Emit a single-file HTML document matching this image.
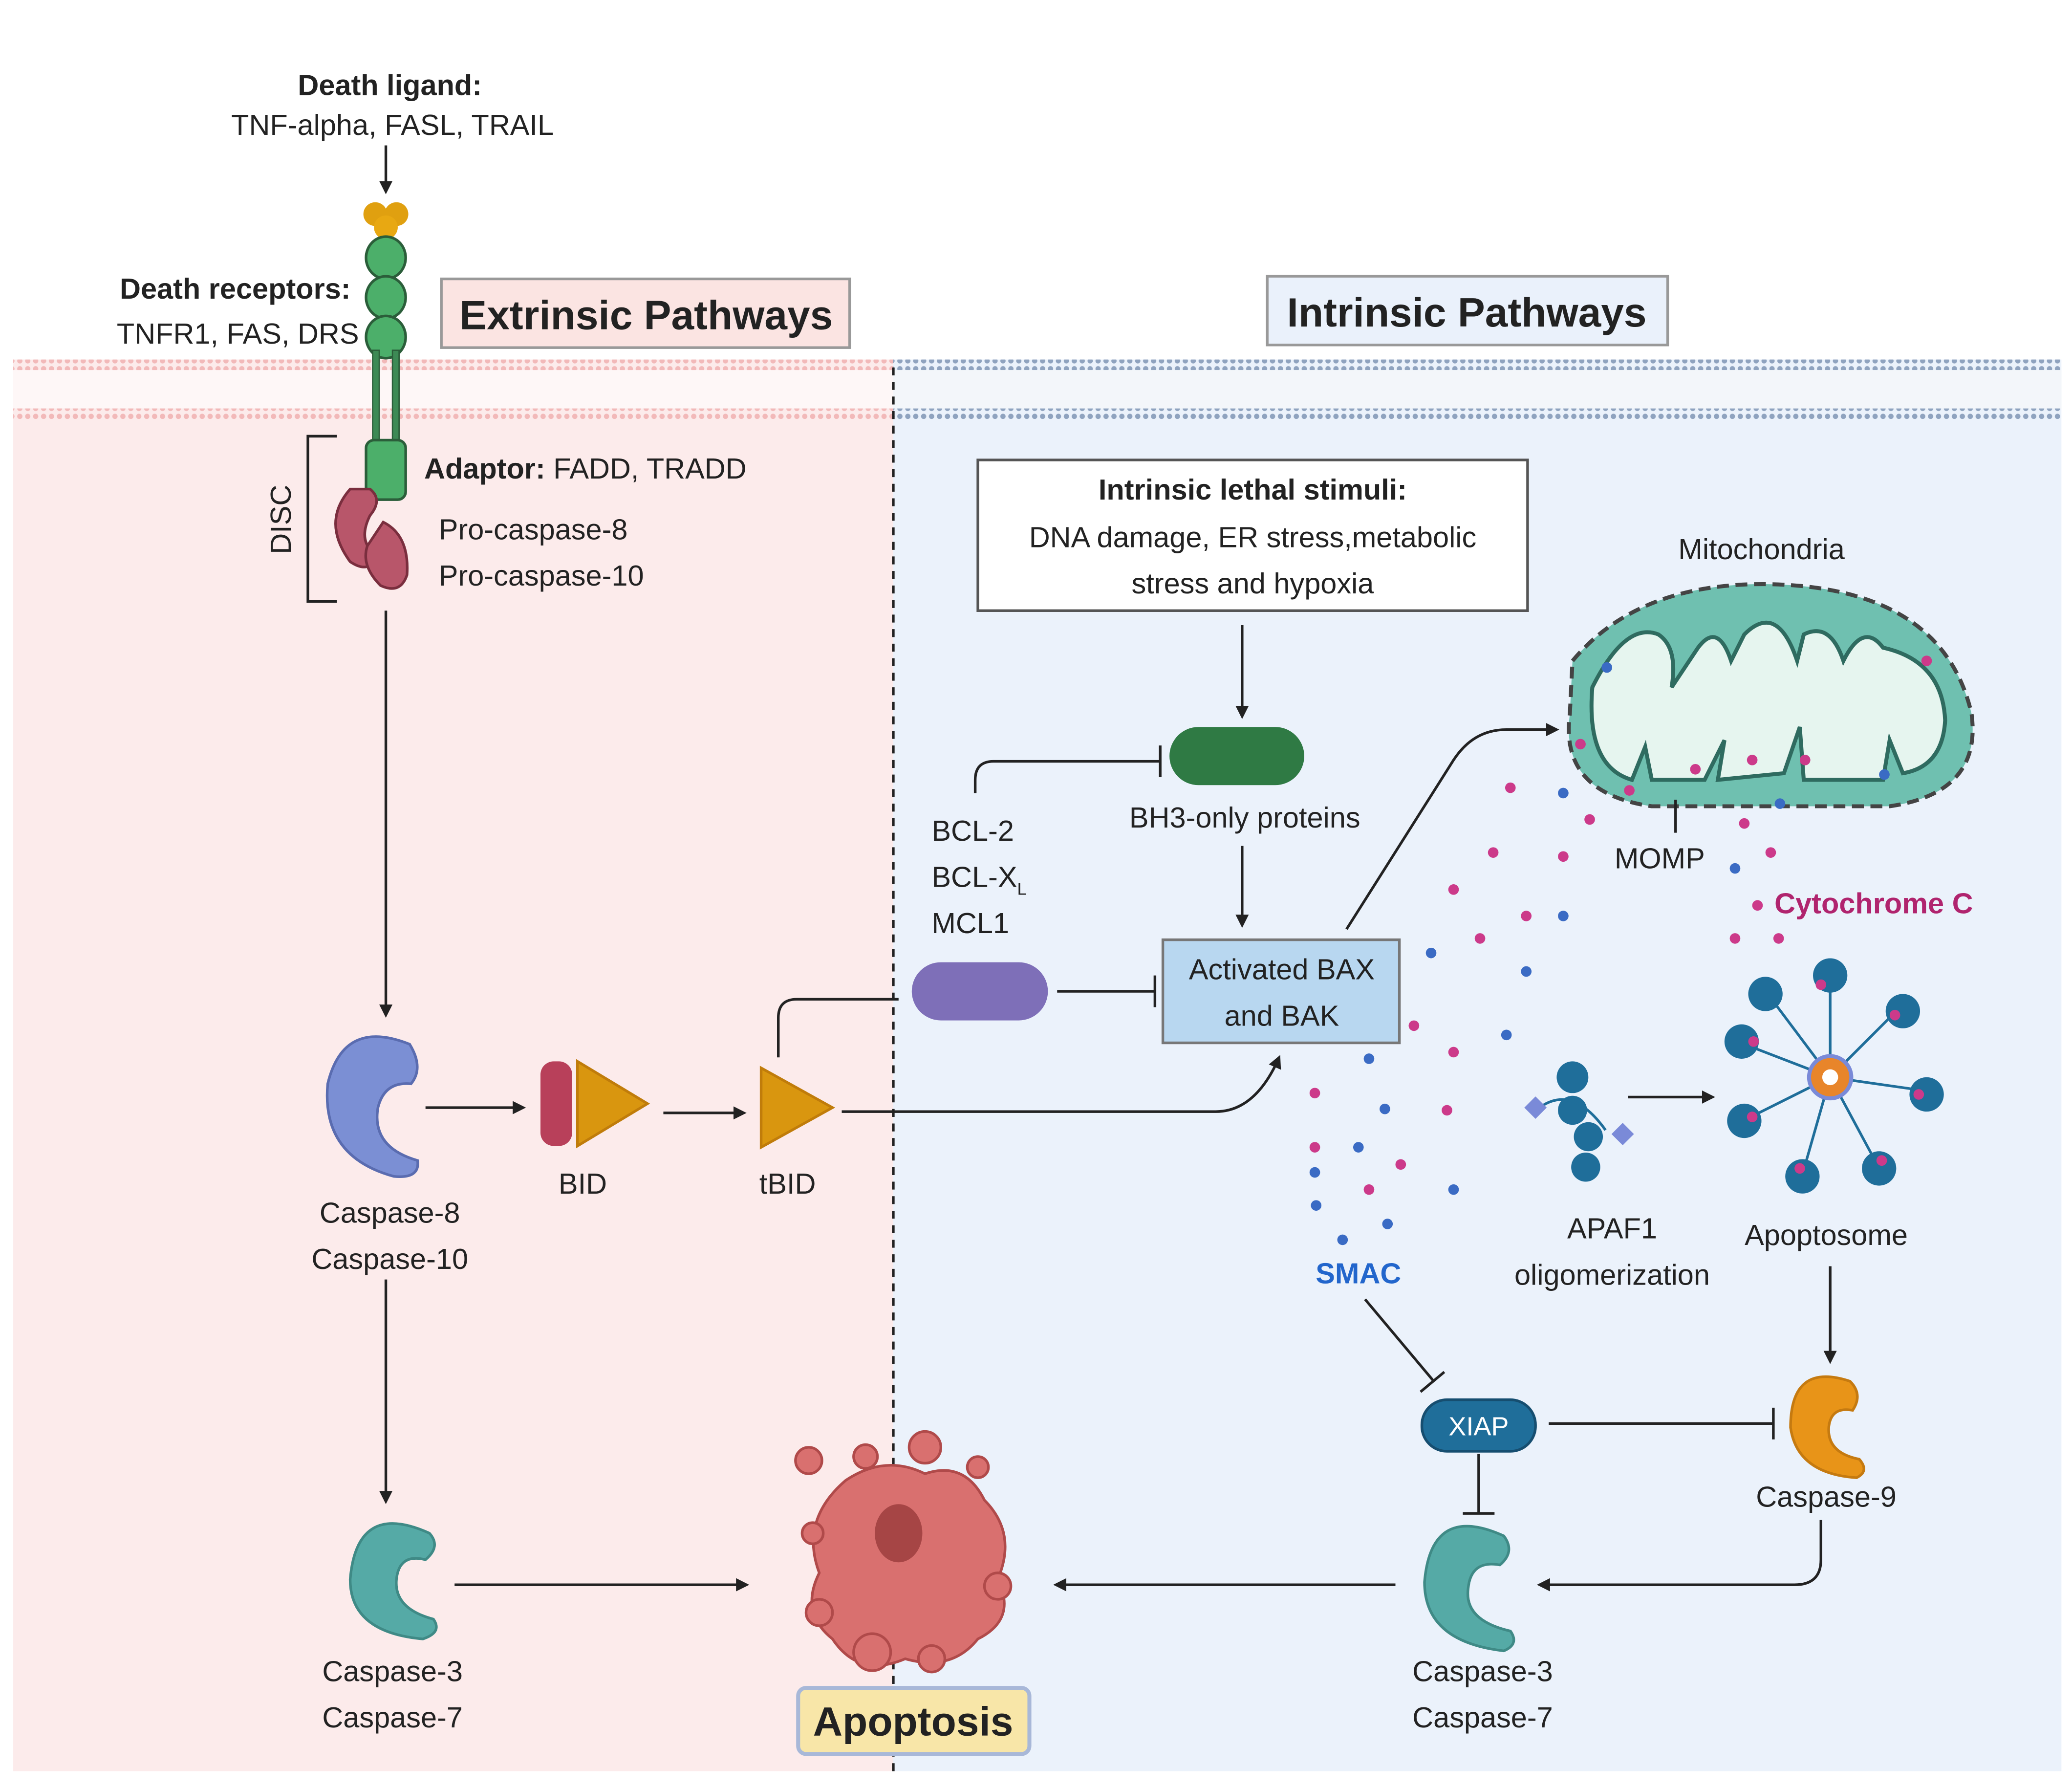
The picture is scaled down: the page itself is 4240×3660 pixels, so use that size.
<!DOCTYPE html>
<html><head><meta charset="utf-8"><style>
html,body{margin:0;padding:0;background:#fff}
svg{display:block}
text{font-family:"Liberation Sans",sans-serif;fill:#222}
</style></head><body>
<svg width="4240" height="3660" viewBox="0 0 1568 1353.5" xmlns="http://www.w3.org/2000/svg">
<defs>
<marker id="ar" markerWidth="10" markerHeight="10" refX="8" refY="5" orient="auto" markerUnits="userSpaceOnUse"><path d="M0,0 L10,5 L0,10 z" fill="#222"/></marker>
<pattern id="pm" width="6" height="6" patternUnits="userSpaceOnUse"><circle cx="3" cy="3" r="2" fill="#f2b9b9"/></pattern>
<pattern id="bm" width="6" height="6" patternUnits="userSpaceOnUse"><circle cx="3" cy="3" r="2" fill="#8fa3bf"/></pattern>
</defs>
<rect width="1568" height="1354" fill="#fff"/>
<!-- panels -->
<rect x="10" y="272" width="666" height="1068" fill="#fcebeb"/>
<rect x="676" y="272" width="884" height="1068" fill="#ebf2fb"/>
<rect x="10" y="272" width="666" height="8" fill="url(#pm)"/>
<rect x="10" y="309" width="666" height="8" fill="url(#pm)"/>
<rect x="10" y="280" width="666" height="29" fill="#fff" opacity="0.6"/>
<rect x="676" y="272" width="884" height="8" fill="url(#bm)"/>
<rect x="676" y="309" width="884" height="8" fill="url(#bm)"/>
<rect x="676" y="280" width="884" height="29" fill="#f3f6fa"/>
<line x1="676" y1="278" x2="676" y2="1345" stroke="#222" stroke-width="2" stroke-dasharray="6,5"/>

<!-- titles -->
<rect x="334" y="211" width="309" height="52" fill="#fbe4e2" stroke="#999" stroke-width="2"/>
<text x="489" y="249" font-size="31" font-weight="bold" text-anchor="middle">Extrinsic Pathways</text>
<rect x="959" y="209" width="303" height="52" fill="#eaf1fb" stroke="#999" stroke-width="2"/>
<text x="1110" y="247" font-size="31" font-weight="bold" text-anchor="middle">Intrinsic Pathways</text>

<!-- death ligand -->
<text x="295" y="72" font-size="22" font-weight="bold" text-anchor="middle">Death ligand:</text>
<text x="297" y="102" font-size="22" text-anchor="middle">TNF-alpha, FASL, TRAIL</text>
<line x1="292" y1="110" x2="292" y2="145" stroke="#222" stroke-width="2" marker-end="url(#ar)"/>
<circle cx="284" cy="162" r="9" fill="#e0a010"/><circle cx="300" cy="162" r="9" fill="#e0a010"/><circle cx="292" cy="172" r="9" fill="#e8a812"/>
<g fill="#4caf6a" stroke="#2b5e3a" stroke-width="2">
<ellipse cx="292" cy="195" rx="15" ry="16"/><ellipse cx="292" cy="225" rx="15" ry="16"/><ellipse cx="292" cy="255" rx="15" ry="16"/>
</g>
<rect x="282" y="265" width="5" height="70" fill="#3d8a55" stroke="#2b5e3a"/>
<rect x="297" y="265" width="5" height="70" fill="#3d8a55" stroke="#2b5e3a"/>
<rect x="277" y="333" width="30" height="45" rx="6" fill="#4caf6a" stroke="#2b5e3a" stroke-width="2"/>
<text x="178" y="226" font-size="22" font-weight="bold" text-anchor="middle">Death receptors:</text>
<text x="180" y="260" font-size="22" text-anchor="middle">TNFR1, FAS, DRS</text>
<path d="M255,330 L233,330 L233,455 L255,455" fill="none" stroke="#222" stroke-width="2"/>
<text x="220" y="393" font-size="22" text-anchor="middle" transform="rotate(-90 220 393)">DISC</text>
<path d="M265,370 q-22,25 0,55 q15,10 20,-5 q-15,-10 -5,-30 q10,-12 0,-20 z" fill="#b8566a" stroke="#7a2e3e" stroke-width="2"/>
<path d="M290,395 q20,10 18,40 q-5,15 -20,8 q-15,-15 -10,-30 z" fill="#b8566a" stroke="#7a2e3e" stroke-width="2"/>
<text x="321" y="362" font-size="22"><tspan font-weight="bold">Adaptor:</tspan> FADD, TRADD</text>
<text x="332" y="408" font-size="22">Pro-caspase-8</text>
<text x="332" y="443" font-size="22">Pro-caspase-10</text>
<line x1="292" y1="462" x2="292" y2="768" stroke="#222" stroke-width="2" marker-end="url(#ar)"/>

<!-- caspase 8 -->
<path d="M310,790 q-50,-20 -62,30 q-5,55 50,70 q20,2 18,-12 q-35,-10 -30,-40 q5,-20 25,-18 q10,-12 -1,-30 z" fill="#7b8fd4" stroke="#5a6cb0" stroke-width="2"/>
<text x="295" y="925" font-size="22" text-anchor="middle">Caspase-8</text>
<text x="295" y="960" font-size="22" text-anchor="middle">Caspase-10</text>
<line x1="322" y1="838" x2="396" y2="838" stroke="#222" stroke-width="2" marker-end="url(#ar)"/>
<rect x="409" y="803" width="24" height="64" rx="10" fill="#b8405a"/>
<path d="M437,803 L490,835 L437,867 z" fill="#d9960f" stroke="#c07c0a" stroke-width="2"/>
<text x="441" y="903" font-size="22" text-anchor="middle">BID</text>
<line x1="502" y1="842" x2="563" y2="842" stroke="#222" stroke-width="2" marker-end="url(#ar)"/>
<path d="M576,808 L630,838 L576,868 z" fill="#d9960f" stroke="#c07c0a" stroke-width="2"/>
<text x="596" y="903" font-size="22" text-anchor="middle">tBID</text>
<path d="M589,800 L589,770 Q589,756 603,756 L680,756" fill="none" stroke="#222" stroke-width="2"/>
<path d="M637,841 L920,841 Q950,841 968,800" fill="none" stroke="#222" stroke-width="2" marker-end="url(#ar)"/>

<line x1="292" y1="968" x2="292" y2="1136" stroke="#222" stroke-width="2" marker-end="url(#ar)"/>
<path d="M325,1160 q-55,-25 -60,35 q0,40 55,45 q15,-5 8,-15 q-30,-8 -28,-30 q2,-20 22,-15 q12,-10 3,-20 z" fill="#55aaa6" stroke="#3f8a86" stroke-width="2"/>
<text x="297" y="1272" font-size="22" text-anchor="middle">Caspase-3</text>
<text x="297" y="1307" font-size="22" text-anchor="middle">Caspase-7</text>
<line x1="344" y1="1199" x2="565" y2="1199" stroke="#222" stroke-width="2" marker-end="url(#ar)"/>

<!-- apoptotic cell -->
<g fill="#d9706f" stroke="#b04a4a" stroke-width="2">
<path d="M640,1120 q30,-20 60,-5 q30,-10 45,20 q25,25 10,60 q15,30 -15,45 q-20,25 -55,15 q-35,15 -55,-15 q-25,-20 -10,-50 q-15,-40 20,-70 z"/>
<circle cx="612" cy="1105" r="10"/><circle cx="655" cy="1102" r="9"/><circle cx="700" cy="1095" r="12"/><circle cx="740" cy="1110" r="8"/>
<circle cx="615" cy="1160" r="8"/><circle cx="620" cy="1220" r="10"/><circle cx="755" cy="1200" r="10"/><circle cx="660" cy="1250" r="14"/><circle cx="705" cy="1255" r="10"/>
</g>
<ellipse cx="680" cy="1160" rx="18" ry="22" fill="#a64545"/>
<rect x="604" y="1277" width="175" height="50" rx="6" fill="#f8e6a8" stroke="#a8b8d8" stroke-width="3"/>
<text x="691" y="1313" font-size="31" font-weight="bold" text-anchor="middle">Apoptosis</text>

<!-- intrinsic -->
<rect x="740" y="348" width="416" height="114" fill="#fff" stroke="#555" stroke-width="2"/>
<text x="948" y="378" font-size="22" font-weight="bold" text-anchor="middle">Intrinsic lethal stimuli:</text>
<text x="948" y="414" font-size="22" text-anchor="middle">DNA damage, ER stress,metabolic</text>
<text x="948" y="449" font-size="22" text-anchor="middle">stress and  hypoxia</text>
<line x1="940" y1="473" x2="940" y2="542" stroke="#222" stroke-width="2" marker-end="url(#ar)"/>
<rect x="885" y="550" width="102" height="44" rx="22" fill="#2f7a44"/>
<text x="942" y="626" font-size="22" text-anchor="middle">BH3-only proteins</text>
<path d="M738,600 L738,590 Q738,576 752,576 L878,576" fill="none" stroke="#222" stroke-width="2"/>
<line x1="878" y1="564" x2="878" y2="588" stroke="#222" stroke-width="2"/>
<line x1="940" y1="640" x2="940" y2="700" stroke="#222" stroke-width="2" marker-end="url(#ar)"/>
<text x="705" y="636" font-size="22">BCL-2</text>
<text x="705" y="671" font-size="22">BCL-X<tspan font-size="13" dy="6">L</tspan></text>
<text x="705" y="706" font-size="22">MCL1</text>
<rect x="690" y="728" width="103" height="44" rx="22" fill="#7e6fb8"/>
<line x1="800" y1="750" x2="874" y2="750" stroke="#222" stroke-width="2"/>
<line x1="874" y1="738" x2="874" y2="762" stroke="#222" stroke-width="2"/>
<rect x="880" y="711" width="179" height="78" fill="#b8d7f0" stroke="#777" stroke-width="2"/>
<text x="970" y="741" font-size="22" text-anchor="middle">Activated BAX</text>
<text x="970" y="776" font-size="22" text-anchor="middle">and BAK</text>
<path d="M1019,703 L1100,575 Q1115,552 1140,552 L1178,552" fill="none" stroke="#222" stroke-width="2" marker-end="url(#ar)"/>

<!-- mitochondria -->
<text x="1333" y="423" font-size="22" text-anchor="middle">Mitochondria</text>
<path d="M1190,500 Q1240,440 1340,442 Q1470,445 1492,540 Q1500,600 1430,610 L1250,610 Q1180,600 1188,540 z" fill="#6fc0b0" stroke="#444" stroke-width="3" stroke-dasharray="9,5"/>
<path d="M1205,520 Q1230,470 1255,480 Q1270,490 1265,520 L1285,490 Q1300,470 1310,500 L1320,480 Q1345,455 1360,500 L1365,480 Q1385,470 1395,500 Q1410,470 1425,490 Q1470,500 1472,545 Q1470,580 1440,585 L1430,560 L1425,590 L1365,590 L1362,550 L1350,585 L1300,590 L1305,560 L1290,590 L1250,590 L1245,565 L1235,590 Q1200,580 1205,520 z" fill="#e6f5ef" stroke="#2f6b60" stroke-width="3"/>
<line x1="1268" y1="605" x2="1268" y2="630" stroke="#222" stroke-width="2"/>
<text x="1256" y="657" font-size="22" text-anchor="middle">MOMP</text>
<g fill="#cc3a8a">
<circle cx="1196" cy="563" r="4"/><circle cx="1233" cy="598" r="4"/><circle cx="1283" cy="582" r="4"/><circle cx="1326" cy="575" r="4"/><circle cx="1366" cy="575" r="4"/><circle cx="1458" cy="500" r="4"/>
<circle cx="1143" cy="596" r="4"/><circle cx="1203" cy="620" r="4"/><circle cx="1130" cy="645" r="4"/><circle cx="1183" cy="648" r="4"/><circle cx="1100" cy="673" r="4"/><circle cx="1155" cy="693" r="4"/><circle cx="1120" cy="710" r="4"/>
<circle cx="1320" cy="623" r="4"/><circle cx="1340" cy="645" r="4"/><circle cx="1313" cy="710" r="4"/><circle cx="1346" cy="710" r="4"/><circle cx="1337" cy="745" r="4"/><circle cx="1330" cy="685" r="4"/>
<circle cx="1070" cy="776" r="4"/><circle cx="1100" cy="796" r="4"/><circle cx="995" cy="827" r="4"/><circle cx="1095" cy="840" r="4"/><circle cx="995" cy="868" r="4"/><circle cx="1060" cy="881" r="4"/><circle cx="1036" cy="900" r="4"/>
</g>
<g fill="#3a6bc4">
<circle cx="1216" cy="505" r="4"/><circle cx="1426" cy="586" r="4"/><circle cx="1183" cy="600" r="4"/><circle cx="1347" cy="608" r="4"/><circle cx="1313" cy="657" r="4"/><circle cx="1183" cy="693" r="4"/><circle cx="1083" cy="721" r="4"/><circle cx="1155" cy="735" r="4"/>
<circle cx="1140" cy="783" r="4"/><circle cx="1036" cy="801" r="4"/><circle cx="1048" cy="839" r="4"/><circle cx="1028" cy="868" r="4"/><circle cx="995" cy="887" r="4"/><circle cx="996" cy="912" r="4"/><circle cx="1050" cy="926" r="4"/><circle cx="1016" cy="938" r="4"/><circle cx="1100" cy="900" r="4"/>
</g>
<text x="1418" y="691" font-size="22" font-weight="bold" fill="#b0246e" text-anchor="middle" style="fill:#b0246e">Cytochrome C</text>
<text x="1028" y="971" font-size="22" font-weight="bold" text-anchor="middle" style="fill:#2266cc">SMAC</text>

<!-- APAF1 -->
<g fill="#1f6e9a">
<circle cx="1190" cy="815" r="12"/><circle cx="1190" cy="840" r="11"/><circle cx="1202" cy="860" r="11"/><circle cx="1200" cy="883" r="11"/>
</g>
<path d="M1165,838 Q1190,820 1215,855" fill="none" stroke="#1f6e9a" stroke-width="2"/>
<rect x="1156" y="832" width="12" height="12" fill="#7a8ad8" transform="rotate(45 1162 838)"/>
<rect x="1222" y="852" width="12" height="12" fill="#7a8ad8" transform="rotate(45 1228 858)"/>
<text x="1220" y="937" font-size="22" text-anchor="middle">APAF1</text>
<text x="1220" y="972" font-size="22" text-anchor="middle">oligomerization</text>
<line x1="1232" y1="830" x2="1296" y2="830" stroke="#222" stroke-width="2" marker-end="url(#ar)"/>

<!-- apoptosome -->
<g stroke="#1f6e9a" stroke-width="2" fill="none">
<line x1="1385" y1="815" x2="1385" y2="740"/><line x1="1385" y1="815" x2="1435" y2="765"/><line x1="1385" y1="815" x2="1455" y2="825"/><line x1="1385" y1="815" x2="1420" y2="880"/>
<line x1="1385" y1="815" x2="1365" y2="885"/><line x1="1385" y1="815" x2="1325" y2="845"/><line x1="1385" y1="815" x2="1320" y2="790"/><line x1="1385" y1="815" x2="1340" y2="755"/>
</g>
<g fill="#1f6e9a">
<circle cx="1385" cy="738" r="13"/><circle cx="1440" cy="765" r="13"/><circle cx="1458" cy="828" r="13"/><circle cx="1422" cy="884" r="13"/>
<circle cx="1364" cy="890" r="13"/><circle cx="1320" cy="848" r="13"/><circle cx="1318" cy="788" r="13"/><circle cx="1336" cy="752" r="13"/>
</g>
<g fill="#cc3a8a"><circle cx="1378" cy="745" r="4"/><circle cx="1434" cy="768" r="4"/><circle cx="1452" cy="828" r="4"/><circle cx="1424" cy="878" r="4"/><circle cx="1362" cy="884" r="4"/><circle cx="1326" cy="845" r="4"/><circle cx="1327" cy="788" r="4"/></g>
<circle cx="1385" cy="815" r="16" fill="#e8852a" stroke="#7a8ad8" stroke-width="3"/>
<circle cx="1385" cy="815" r="6" fill="#fff"/>
<text x="1382" y="942" font-size="22" text-anchor="middle">Apoptosome</text>
<line x1="1385" y1="958" x2="1385" y2="1030" stroke="#222" stroke-width="2" marker-end="url(#ar)"/>

<!-- caspase 9 -->
<path d="M1400,1045 q-45,-15 -45,35 q5,35 50,38 q10,-5 2,-14 q-25,-5 -23,-25 q2,-15 18,-12 q8,-12 -2,-22 z" fill="#e89418" stroke="#c57a10" stroke-width="2"/>
<text x="1382" y="1140" font-size="22" text-anchor="middle">Caspase-9</text>
<path d="M1378,1150 L1378,1180 Q1378,1199 1358,1199 L1165,1199" fill="none" stroke="#222" stroke-width="2" marker-end="url(#ar)"/>

<!-- XIAP -->
<line x1="1033" y1="983" x2="1085" y2="1045" stroke="#222" stroke-width="2"/>
<line x1="1075" y1="1053" x2="1093" y2="1038" stroke="#222" stroke-width="2"/>
<rect x="1076" y="1059" width="86" height="39" rx="19" fill="#1f6e9a" stroke="#164e70" stroke-width="2"/>
<text x="1119" y="1086" font-size="20" text-anchor="middle" style="fill:#fff">XIAP</text>
<line x1="1172" y1="1077" x2="1342" y2="1077" stroke="#222" stroke-width="2"/>
<line x1="1342" y1="1065" x2="1342" y2="1089" stroke="#222" stroke-width="2"/>
<line x1="1119" y1="1100" x2="1119" y2="1145" stroke="#222" stroke-width="2"/>
<line x1="1107" y1="1145" x2="1131" y2="1145" stroke="#222" stroke-width="2"/>

<path d="M1138,1162 q-55,-25 -60,35 q0,45 60,52 q12,-5 5,-15 q-35,-8 -32,-32 q2,-22 24,-18 q12,-10 3,-22 z" fill="#55aaa6" stroke="#3f8a86" stroke-width="2"/>
<text x="1122" y="1272" font-size="22" text-anchor="middle">Caspase-3</text>
<text x="1122" y="1307" font-size="22" text-anchor="middle">Caspase-7</text>
<line x1="1056" y1="1199" x2="799" y2="1199" stroke="#222" stroke-width="2" marker-end="url(#ar)"/>
</svg>
</body></html>
